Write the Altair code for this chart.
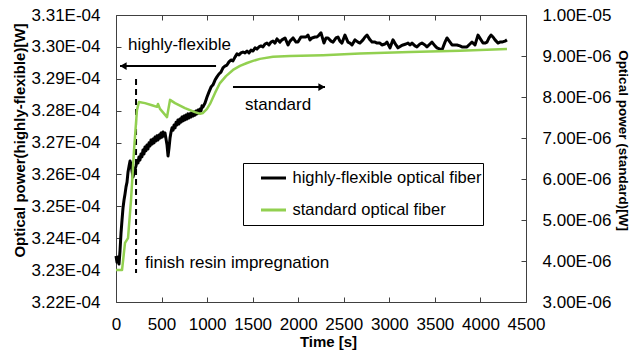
import altair as alt
import pandas as pd

FONT = "Liberation Sans"

# ---------------- data ----------------
# highly-flexible optical fiber (left axis), time [s], power [x1e-6 W]
hf_time = [
    0, 11, 22, 33, 44, 55, 66, 77, 88, 99,
    110, 121, 132, 143, 154, 165, 176, 187, 198, 209,
    219, 230, 241, 252, 263, 274, 285, 296, 307, 318,
    329, 340, 351, 362, 373, 384, 395, 406, 417, 428,
    439, 450, 461, 472, 483, 494, 505, 516, 527, 538,
    549, 560, 571, 582, 593, 604, 615, 626, 637, 648,
    659, 669, 680, 691, 702, 713, 724, 735, 746, 757,
    768, 779, 790, 801, 812, 823, 834, 845, 856, 867,
    878, 889, 900, 911, 922, 933, 944, 955,
    977, 999, 1021, 1043, 1065, 1087, 1108, 1130, 1152, 1174,
    1196, 1218, 1240, 1262, 1284, 1306, 1328, 1350, 1372, 1394,
    1416, 1438, 1460, 1482, 1504, 1526, 1547, 1569, 1591, 1613,
    1635, 1657, 1679, 1701, 1723, 1745, 1767, 1800, 1822, 1855,
    1888, 1910, 1943, 1976, 1997, 2030, 2052, 2085, 2107, 2129,
    2151, 2184, 2206, 2228, 2250, 2283, 2305, 2327, 2360, 2382,
    2415, 2436, 2458, 2480, 2513, 2546, 2568, 2590, 2623, 2656,
    2678, 2711, 2733, 2755, 2788, 2810, 2843, 2865, 2897, 2919,
    2952, 2974, 3007, 3040, 3073, 3095, 3128, 3150, 3183, 3205,
    3227, 3249, 3282, 3303, 3336, 3358, 3391, 3413, 3446, 3468,
    3501, 3523, 3556, 3578, 3611, 3633, 3666, 3688, 3721, 3742,
    3775, 3797, 3830, 3852, 3885, 3907, 3940, 3973, 4006, 4028,
    4050, 4072, 4094, 4116, 4138, 4160, 4192, 4214, 4236, 4269,
    4291,
]
hf_power_uW = [
    323.44, 323.25, 323.41, 323.19, 323.60, 324.16, 324.57, 324.95, 325.20, 325.39,
    325.61, 325.76, 326.08, 326.26, 326.42, 326.33, 326.11, 325.92, 326.05, 326.17,
    326.26, 326.42, 326.36, 326.55, 326.45, 326.64, 326.55, 326.77, 326.64, 326.86,
    326.74, 326.92, 326.80, 326.99, 326.89, 327.08, 326.95, 327.11, 326.99, 327.17,
    327.05, 327.21, 327.08, 327.24, 327.14, 327.30, 327.17, 327.33, 327.21, 327.30,
    327.11, 326.92, 326.58, 326.83, 327.14, 327.33, 327.46, 327.39, 327.55, 327.46,
    327.64, 327.55, 327.71, 327.58, 327.74, 327.64, 327.80, 327.68, 327.83, 327.71,
    327.86, 327.74, 327.90, 327.77, 327.90, 327.80, 327.96, 327.83, 327.96, 327.86,
    327.99, 327.90, 328.02, 327.93, 328.05, 327.99, 328.15, 328.12,
    328.24, 328.43, 328.59, 328.74, 328.81, 328.96, 329.06, 329.15, 329.21, 329.34,
    329.40, 329.43, 329.53, 329.59, 329.56, 329.68, 329.78, 329.75, 329.81, 329.84,
    329.81, 329.87, 329.81, 329.90, 329.87, 329.97, 329.93, 330.00, 330.03, 330.00,
    330.09, 330.12, 330.06, 330.15, 330.18, 330.12, 330.25, 330.15, 330.22, 330.28,
    330.06, 330.18, 330.28, 330.15, 330.15, 330.31, 330.31, 330.31, 330.37, 330.22,
    330.28, 330.31, 330.31, 330.37, 330.44, 330.12, 330.28, 330.28, 330.18, 330.15,
    330.28, 330.31, 330.18, 330.12, 330.37, 330.15, 330.12, 330.06, 330.22, 330.15,
    330.12, 330.22, 330.31, 330.37, 330.22, 330.15, 330.15, 330.12, 330.12, 330.06,
    330.09, 330.15, 329.97, 330.22, 330.06, 329.97, 330.03, 330.06, 330.09, 330.12,
    330.06, 330.12, 330.03, 330.00, 330.09, 330.12, 330.06, 330.00, 330.09, 330.15,
    330.03, 329.97, 329.93, 329.90, 330.15, 330.28, 330.15, 330.06, 330.06, 330.06,
    330.03, 330.00, 330.00, 330.00, 330.09, 330.15, 330.06, 330.37, 330.22, 330.12,
    330.12, 330.15, 330.28, 330.37, 330.31, 330.22, 330.12, 330.15, 330.15, 330.18,
    330.22,
]

# standard optical fiber (right axis), time [s], power [x1e-6 W]
std_time = [0, 66, 99, 132, 165, 198, 230, 252, 318, 395, 450, 461, 483, 560, 593,
            648, 757, 867, 922, 955, 999, 1032, 1087, 1141, 1207, 1284, 1361, 1438,
            1504, 1580, 1723, 1910, 2272, 2678, 3227, 3775, 4291]
std_power_uW = [3.78, 3.78, 4.44, 4.56, 5.49, 6.71, 7.68, 7.88, 7.85, 7.80, 7.76, 7.83,
                7.71, 7.51, 7.93, 7.85, 7.73, 7.63, 7.59, 7.61, 7.71, 7.83, 8.10, 8.34,
                8.51, 8.66, 8.76, 8.83, 8.88, 8.93, 8.98, 9.00, 9.02, 9.06, 9.10, 9.13,
                9.17]

series_names = ["highly-flexible optical fiber", "standard optical fiber"]
series_colors = ["#000000", "#92d050"]

x_ticks = [0, 500, 1000, 1500, 2000, 2500, 3000, 3500, 4000, 4500]
left_ticks = [322, 323, 324, 325, 326, 327, 328, 329, 330, 331]
right_ticks = [3, 4, 5, 6, 7, 8, 9, 10]

# annotations (in left-axis units)
annot_text = ["highly-flexible", "standard", "finish resin impregnation"]
annot_t = [132, 1416, 318]
annot_v = [329.90, 328.02, 323.07]

arrow_t_start = [1098, 1284]
arrow_t_end = [44, 2294]
arrow_head_t = [80, 2258]
arrow_v = [329.40, 328.74]
arrow_shape = ["triangle-left", "triangle-right"]

resin_t = [220]
resin_v_top = [328.99]
resin_v_bottom = [322.91]

# ---------------- tables ----------------
hf_df = pd.DataFrame({"t": hf_time, "p": hf_power_uW, "series": series_names[0]})
std_df = pd.DataFrame({"t": std_time, "p": std_power_uW, "series": series_names[1]})
text_df = pd.DataFrame({"t": annot_t, "p": annot_v, "label": annot_text})
arrow_df = pd.DataFrame({"t": arrow_t_start, "t2": arrow_t_end, "th": arrow_head_t,
                         "p": arrow_v, "shape": arrow_shape})
resin_df = pd.DataFrame({"t": resin_t, "p": resin_v_top, "p2": resin_v_bottom})

AX_COLOR = "#404040"
x_scale = alt.Scale(domain=[0, 4500], nice=False)
yl_scale = alt.Scale(domain=[322, 331], nice=False, zero=False)
yr_scale = alt.Scale(domain=[3, 10], nice=False, zero=False)

x_axis_bottom = alt.Axis(
    values=x_ticks, orient="bottom", title="Time [s]", domain=False, format="d",
    tickSize=5, offset=-5, labelPadding=14, labelFlush=False, labelOverlap=False,
    titleX=212, titleY=49, titleAlign="center", titleBaseline="alphabetic",
    titleFontSize=15, titleFontWeight="bold",
)
x_axis_top = alt.Axis(
    values=x_ticks, orient="top", title=None, labels=False, domain=False,
    tickSize=5, offset=-5,
)
yl_axis = alt.Axis(
    values=left_ticks, orient="left", domain=False, tickSize=5, offset=-5,
    labelPadding=16, labelExpr="format(datum.value / 100, '.2f') + 'E-04'",
    title="Optical power(highly-flexible)[W]", titleFontSize=15, titleFontWeight="bold",
    titleAngle=270, titleX=-102, titleY=125, titleAlign="center", titleBaseline="middle",
)
yr_axis = alt.Axis(
    values=right_ticks, orient="right", domain=False, tickSize=5, offset=-5,
    labelPadding=16,
    labelExpr="datum.value >= 10 ? format(datum.value / 10, '.2f') + 'E-05' : format(datum.value, '.2f') + 'E-06'",
    title="Optical power (standard)[W]", titleFontSize=13.5, titleFontWeight="bold",
    titleAngle=90, titleX=101, titleY=125, titleAlign="center", titleBaseline="middle",
)

color = alt.Color(
    "series:N",
    scale=alt.Scale(domain=series_names, range=series_colors),
    legend=alt.Legend(
        orient="none", legendX=127, legendY=148, title=None,
        symbolType="stroke", symbolSize=625, symbolStrokeWidth=3,
        labelFont=FONT, labelFontSize=16.5, labelColor="black",
        padding=1, rowPadding=4, clipHeight=28, symbolOffset=15.5, labelOffset=5,
        strokeColor="black", fillColor="white", labelLimit=400,
        labelExpr="datum.label + '\u00a0\u00a0\u00a0\u00a0\u00a0\u00a0\u00a0'",
    ),
)

xb = alt.X("t:Q", scale=x_scale, axis=x_axis_bottom)
yl = alt.Y("p:Q", scale=yl_scale, axis=yl_axis)

hf_line = alt.Chart(hf_df).mark_line(strokeWidth=3, strokeJoin="round").encode(
    x=xb, y=yl, color=color
)
arrows = alt.Chart(arrow_df).mark_rule(color="black", strokeWidth=2).encode(
    x=xb, x2="t2:Q", y=yl
)
heads = alt.Chart(arrow_df).mark_point(filled=True, color="black", size=60, opacity=1).encode(
    x=alt.X("th:Q", scale=x_scale, axis=x_axis_bottom), y=yl,
    shape=alt.Shape("shape:N", scale=None)
)
texts = alt.Chart(text_df).mark_text(
    align="left", baseline="alphabetic", font=FONT, fontSize=17, color="black"
).encode(x=xb, y=yl, text="label:N")
resin = alt.Chart(resin_df).mark_rule(color="black", strokeWidth=2, strokeDash=[6, 4]).encode(
    x=xb, y=yl, y2="p2:Q"
)

left = alt.layer(hf_line, arrows, heads, texts, resin)

std_line = alt.Chart(std_df).mark_line(strokeWidth=2.5, strokeJoin="round").encode(
    x=alt.X("t:Q", scale=x_scale, axis=x_axis_top),
    y=alt.Y("p:Q", scale=yr_scale, axis=yr_axis),
    color=color,
)
right = alt.layer(std_line)

chart = (
    alt.layer(left, right)
    .resolve_scale(y="independent")
    .resolve_axis(x="independent", y="independent")
    .properties(
        width=410, height=287,
        autosize=alt.AutoSizeParams(type="none"),
        padding={"left": 116, "top": 15, "right": 106, "bottom": 51},
        background="white",
    )
    .configure_view(stroke=AX_COLOR, strokeWidth=1)
    .configure_axis(
        labelFont=FONT, titleFont=FONT, labelFontSize=17, labelColor="black",
        titleColor="black", tickColor=AX_COLOR, tickWidth=1, grid=False,
    )
)

chart.save("out.html", embed_options={"renderer": "svg", "actions": False})
